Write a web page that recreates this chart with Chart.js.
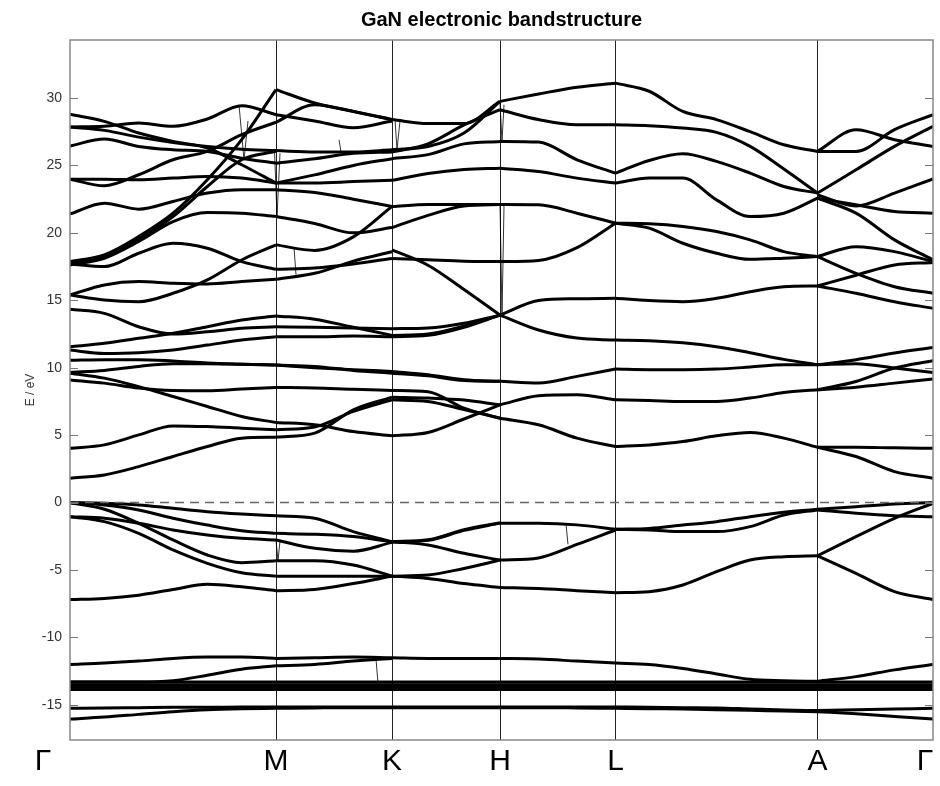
<!DOCTYPE html>
<html>
<head>
<meta charset="utf-8">
<title>GaN electronic bandstructure</title>
<script src="https://cdn.jsdelivr.net/npm/chart.js@4.4.1/dist/chart.umd.min.js"></script>
<style>
  html, body { margin: 0; padding: 0; background: #fff; }
  canvas { display: block; }
</style>
</head>
<body>
<canvas id="bandChart" width="940" height="786"></canvas>
<script>
// path through the Brillouin zone (k in path units) and its labels
const symLabels = ['Γ', 'M', 'K', 'H', 'L', 'A', 'Γ'];
const kSym = [0, 206, 322, 430, 545.5, 747.5, 863];
const symLabelK = [-27, 206, 322, 430, 545.5, 747.5, 855];
const segSteps = [6, 3, 3, 3, 6, 3];
const fermiLevel = 0;
const yMin = -17.6;
const yMax = 34.3;

// energies (eV) of each band, sampled evenly along each segment
const bandsGM = [
  [-16.05, -15.9, -15.7, -15.5, -15.35, -15.28, -15.25],
  [-15.25, -15.22, -15.2, -15.18, -15.17, -15.16, -15.15],
  [-13.85, -13.85, -13.85, -13.85, -13.85, -13.85, -13.85],
  [-13.7, -13.7, -13.7, -13.7, -13.7, -13.7, -13.7],
  [-13.5, -13.5, -13.5, -13.5, -13.5, -13.5, -13.5],
  [-13.3, -13.3, -13.3, -13.3, -13.3, -13.3, -13.3],
  [-13.3, -13.3, -13.3, -13.2, -12.8, -12.35, -12.1],
  [-12.0, -11.9, -11.75, -11.55, -11.45, -11.45, -11.55],
  [-7.18, -7.1, -6.86, -6.44, -6.06, -6.24, -6.53],
  [-1.04, -1.41, -2.28, -3.51, -4.5, -5.2, -5.45],
  [-1.04, -1.16, -1.53, -2.03, -2.4, -2.65, -2.77],
  [0, -0.49, -1.53, -2.77, -3.88, -4.45, -4.31],
  [0, -0.17, -0.54, -1.16, -1.66, -2.08, -2.28],
  [0, -0.05, -0.17, -0.42, -0.67, -0.84, -0.97],
  [1.81, 2.05, 2.67, 3.42, 4.16, 4.78, 4.85],
  [4.03, 4.28, 5.02, 5.69, 5.64, 5.52, 5.4],
  [9.1, 8.86, 8.5, 8.32, 8.3, 8.42, 8.54],
  [9.6, 9.23, 8.6, 7.87, 7.13, 6.39, 5.94],
  [9.65, 9.8, 10.1, 10.3, 10.3, 10.25, 10.2],
  [10.55, 10.6, 10.6, 10.5, 10.35, 10.25, 10.2],
  [11.31, 11.06, 11.11, 11.31, 11.68, 12.05, 12.3],
  [11.56, 11.81, 12.18, 12.55, 13.04, 13.54, 13.84],
  [14.33, 14.03, 13.04, 12.5, 12.67, 12.92, 13.04],
  [15.4, 15.02, 14.9, 15.52, 16.51, 17.99, 19.11],
  [15.4, 16.14, 16.39, 16.26, 16.21, 16.39, 16.56],
  [17.7, 17.5, 18.49, 19.23, 18.86, 17.87, 17.3],
  [17.62, 18.12, 19.36, 20.84, 21.51, 21.46, 21.21],
  [17.8, 18.24, 19.53, 21.21, 23.44, 25.42, 26.04],
  [17.87, 18.37, 19.73, 21.46, 23.94, 26.91, 30.62],
  [21.41, 22.2, 21.76, 22.33, 22.95, 23.2, 23.2],
  [23.98, 23.98, 23.94, 24.06, 24.18, 24.06, 23.69],
  [23.98, 23.49, 24.31, 25.42, 26.04, 27.28, 28.2],
  [26.44, 26.96, 26.41, 26.16, 26.04, 25.54, 25.17],
  [27.85, 27.6, 27.1, 26.7, 26.4, 26.2, 26.1],
  [27.85, 27.9, 28.14, 27.9, 28.44, 29.43, 28.76],
  [28.79, 28.27, 27.4, 26.78, 26.29, 25.05, 23.69]
];

const bandsMK = [
  [-15.25, -15.22, -15.2, -15.2],
  [-15.15, -15.15, -15.15, -15.15],
  [-13.85, -13.85, -13.85, -13.85],
  [-13.7, -13.7, -13.7, -13.7],
  [-13.5, -13.5, -13.5, -13.5],
  [-13.3, -13.3, -13.3, -13.3],
  [-12.1, -12.0, -11.75, -11.55],
  [-11.55, -11.5, -11.45, -11.5],
  [-6.53, -6.44, -6.0, -5.45],
  [-5.45, -5.45, -5.45, -5.45],
  [-4.31, -4.31, -4.63, -5.45],
  [-2.77, -3.39, -3.6, -2.95],
  [-2.28, -2.35, -2.52, -2.9],
  [-0.97, -1.16, -2.15, -2.9],
  [4.85, 5.15, 6.88, 7.82],
  [5.4, 5.6, 6.76, 7.62],
  [5.94, 5.77, 5.27, 4.95],
  [8.54, 8.5, 8.4, 8.32],
  [10.2, 10.1, 9.8, 9.6],
  [10.2, 10.0, 9.85, 9.73],
  [12.3, 12.3, 12.35, 12.3],
  [13.04, 13.0, 12.95, 12.9],
  [13.84, 13.6, 13.0, 12.4],
  [16.56, 17.0, 17.9, 18.6],
  [17.3, 17.4, 17.7, 18.1],
  [19.11, 18.7, 19.7, 21.96],
  [21.21, 20.7, 20.0, 20.4],
  [23.2, 23.0, 22.5, 21.96],
  [23.69, 23.7, 23.8, 23.9],
  [23.69, 24.3, 25.0, 25.5],
  [25.17, 25.5, 25.9, 26.0],
  [26.1, 26.0, 26.0, 26.16],
  [28.76, 28.3, 27.8, 28.3],
  [28.2, 29.5, 29.0, 28.4],
  [30.62, 29.63, 29.01, 28.39]
];

const bandsKH = [
  [-15.2, -15.2, -15.2, -15.2],
  [-15.15, -15.15, -15.15, -15.15],
  [-13.85, -13.85, -13.85, -13.85],
  [-13.7, -13.7, -13.7, -13.7],
  [-13.5, -13.5, -13.5, -13.5],
  [-13.3, -13.3, -13.3, -13.3],
  [-11.5, -11.55, -11.55, -11.55],
  [-5.45, -5.62, -6.0, -6.29],
  [-5.45, -5.37, -4.88, -4.26],
  [-2.9, -3.14, -3.76, -4.26],
  [-2.92, -2.8, -2.06, -1.52],
  [-2.88, -2.75, -2.0, -1.49],
  [4.95, 5.2, 6.2, 7.25],
  [7.62, 7.5, 6.9, 6.26],
  [7.82, 7.75, 7.6, 7.25],
  [8.32, 8.22, 7.0, 6.26],
  [9.6, 9.4, 9.05, 8.99],
  [9.73, 9.48, 9.11, 8.99],
  [12.3, 12.4, 13.0, 13.9],
  [12.4, 12.5, 13.1, 13.9],
  [12.9, 12.95, 13.3, 13.9],
  [18.74, 17.6, 15.8, 13.9],
  [18.1, 18.0, 17.9, 17.87],
  [20.4, 21.3, 22.0, 22.1],
  [21.96, 22.1, 22.1, 22.1],
  [23.9, 24.4, 24.7, 24.8],
  [25.5, 25.8, 26.6, 26.78],
  [26.0, 26.6, 28.0, 29.13],
  [26.16, 26.4, 27.4, 29.75],
  [28.4, 28.1, 28.1, 29.75]
];

const bandsHL = [
  [-15.2, -15.2, -15.22, -15.25],
  [-15.15, -15.15, -15.15, -15.15],
  [-13.85, -13.85, -13.85, -13.85],
  [-13.7, -13.7, -13.7, -13.7],
  [-13.5, -13.5, -13.5, -13.5],
  [-13.3, -13.3, -13.3, -13.3],
  [-11.55, -11.6, -11.75, -11.9],
  [-6.29, -6.37, -6.53, -6.68],
  [-4.26, -4.1, -3.1, -2.03],
  [-1.53, -1.53, -1.65, -1.98],
  [6.26, 5.77, 4.78, 4.16],
  [7.25, 7.92, 8.0, 7.62],
  [8.99, 8.86, 9.36, 9.9],
  [13.9, 12.8, 12.2, 12.05],
  [13.9, 14.98, 15.12, 15.15],
  [17.87, 17.95, 18.9, 20.72],
  [22.1, 22.08, 21.46, 20.72],
  [24.8, 24.55, 24.06, 23.69],
  [26.78, 26.73, 25.42, 24.43],
  [29.13, 28.4, 28.02, 28.02],
  [29.75, 30.3, 30.8, 31.1]
];

const bandsLA = [
  [-15.25, -15.28, -15.3, -15.35, -15.4, -15.45, -15.5],
  [-15.15, -15.17, -15.2, -15.22, -15.3, -15.38, -15.42],
  [-13.85, -13.85, -13.85, -13.85, -13.85, -13.85, -13.85],
  [-13.7, -13.7, -13.7, -13.7, -13.7, -13.7, -13.7],
  [-13.5, -13.5, -13.5, -13.5, -13.5, -13.5, -13.5],
  [-13.3, -13.3, -13.3, -13.3, -13.3, -13.3, -13.3],
  [-11.9, -12.0, -12.3, -12.7, -13.1, -13.2, -13.25],
  [-6.68, -6.6, -6.11, -5.12, -4.26, -4.01, -3.94],
  [-1.98, -2.03, -2.15, -2.15, -1.78, -0.92, -0.54],
  [-1.98, -1.91, -1.66, -1.41, -1.04, -0.72, -0.5],
  [4.16, 4.28, 4.53, 4.95, 5.2, 4.78, 4.1],
  [7.62, 7.57, 7.5, 7.5, 7.75, 8.17, 8.37],
  [9.9, 9.85, 9.85, 9.9, 10.05, 10.22, 10.22],
  [12.05, 12.0, 11.85, 11.56, 11.11, 10.62, 10.22],
  [15.15, 14.98, 14.9, 15.15, 15.64, 16.01, 16.06],
  [20.72, 20.35, 19.23, 18.49, 18.04, 18.12, 18.24],
  [20.72, 20.67, 20.47, 20.1, 19.48, 18.61, 18.24],
  [23.69, 24.06, 24.06, 22.45, 21.21, 21.46, 22.57],
  [24.43, 25.37, 25.87, 25.3, 24.43, 23.44, 22.95],
  [28.02, 27.95, 27.77, 27.45, 26.41, 24.73, 22.95],
  [31.1, 30.5, 29.0, 28.4, 27.5, 26.53, 26.04]
];

const bandsAG = [
  [-15.5, -15.65, -15.85, -16.05],
  [-15.42, -15.35, -15.3, -15.25],
  [-13.85, -13.85, -13.85, -13.85],
  [-13.7, -13.7, -13.7, -13.7],
  [-13.5, -13.5, -13.5, -13.5],
  [-13.3, -13.3, -13.3, -13.3],
  [-13.25, -12.9, -12.4, -12.0],
  [-3.94, -5.25, -6.6, -7.18],
  [-3.94, -2.52, -1.16, -0.05],
  [-0.54, -0.79, -0.97, -1.04],
  [-0.5, -0.3, -0.1, 0],
  [4.1, 3.42, 2.3, 1.81],
  [4.1, 4.1, 4.06, 4.03],
  [8.37, 8.56, 8.86, 9.16],
  [8.37, 8.98, 9.98, 10.52],
  [10.22, 10.3, 9.98, 9.65],
  [10.22, 10.6, 11.1, 11.5],
  [16.06, 15.52, 14.9, 14.41],
  [16.06, 16.86, 17.62, 17.8],
  [18.24, 17.0, 16.01, 15.52],
  [18.24, 18.98, 18.61, 17.87],
  [22.57, 21.46, 19.48, 18.0],
  [22.57, 22.08, 21.58, 21.46],
  [22.82, 22.0, 22.95, 24.0],
  [22.95, 24.68, 26.41, 27.9],
  [26.04, 26.04, 27.65, 28.76],
  [26.04, 27.65, 26.91, 26.41]
];

// thin jumps where the band ordering switches between two k-points
const glitchK = [[169, 174, 178], [204.5, 207, 210], [224, 226], [269, 271], [325, 327, 330],
  [430, 432, 434], [430, 432, 434], [206, 208, 210], [306, 308], [496, 498]];
const glitchE = [[29.5, 25.4, 28.3], [26.1, 21.2, 25.9], [18.9, 16.9], [26.9, 26.0], [28.4, 26.2, 28.3],
  [29.6, 26.8, 29.5], [22.1, 13.9, 22.0], [-2.8, -4.3, -2.85], [-11.6, -13.4], [-1.6, -3.1]];

const segBands = [bandsGM, bandsMK, bandsKH, bandsHL, bandsLA, bandsAG];
const fontFamily = '"Liberation Sans", Arial, Helvetica, sans-serif';

const datasets = [];

datasets.push({
  data: [{ x: kSym[0], y: fermiLevel }, { x: kSym[kSym.length - 1], y: fermiLevel }],
  borderColor: '#666',
  borderWidth: 1.5,
  borderDash: [9, 6],
  pointRadius: 0
});

segBands.forEach((bands, s) => {
  const k0 = kSym[s], k1 = kSym[s + 1], n = segSteps[s];
  bands.forEach(band => {
    datasets.push({
      data: band.map((e, i) => ({ x: k0 + (k1 - k0) * i / n, y: e })),
      borderColor: '#000',
      borderWidth: 3,
      pointRadius: 0,
      cubicInterpolationMode: 'monotone'
    });
  });
});

glitchK.forEach((ks, g) => {
  datasets.push({
    data: ks.map((k, i) => ({ x: k, y: glitchE[g][i] })),
    borderColor: '#000',
    borderWidth: 0.8,
    pointRadius: 0,
    tension: 0
  });
});

// box, inner ticks and the symmetry point labels
const frameAndLabels = {
  id: 'frameAndLabels',
  afterDraw(chart) {
    const { ctx, chartArea: a, scales: { x, y } } = chart;
    ctx.save();
    ctx.strokeStyle = '#777';
    ctx.lineWidth = 1;
    y.ticks.forEach(t => {
      const py = Math.round(y.getPixelForValue(t.value)) + 0.5;
      ctx.beginPath();
      ctx.moveTo(a.left, py); ctx.lineTo(a.left + 8, py);
      ctx.moveTo(a.right, py); ctx.lineTo(a.right - 8, py);
      ctx.stroke();
    });
    ctx.strokeStyle = '#888';
    ctx.lineWidth = 1.5;
    ctx.strokeRect(a.left, a.top, a.right - a.left, a.bottom - a.top);
    ctx.fillStyle = '#000';
    ctx.font = '30px ' + fontFamily;
    ctx.textAlign = 'center';
    ctx.textBaseline = 'middle';
    symLabels.forEach((s, i) => ctx.fillText(s, x.getPixelForValue(symLabelK[i]), a.bottom + 22));
    ctx.restore();
  }
};

new Chart(document.getElementById('bandChart'), {
  type: 'line',
  data: { datasets },
  options: {
    responsive: false,
    animation: false,
    events: [],
    layout: { padding: { left: 20, right: 7, top: 0, bottom: 0 } },
    plugins: {
      legend: { display: false },
      tooltip: { enabled: false },
      title: {
        display: true,
        text: 'GaN electronic bandstructure',
        fullSize: false,
        color: '#000',
        font: { size: 20, weight: 'bold', family: fontFamily },
        padding: { top: 8, bottom: 8 }
      }
    },
    scales: {
      x: {
        type: 'linear',
        min: kSym[0],
        max: kSym[kSym.length - 1],
        afterBuildTicks(axis) { axis.ticks = kSym.map(v => ({ value: v })); },
        afterFit(axis) { axis.height = 46; },
        ticks: { display: false },
        border: { display: false },
        grid: {
          drawTicks: false,
          lineWidth: 1,
          color: c => (c.index === 0 || c.index === kSym.length - 1) ? 'rgba(0,0,0,0)' : '#222'
        }
      },
      y: {
        type: 'linear',
        min: yMin,
        max: yMax,
        afterFit(axis) { axis.width = 50; },
        border: { display: false },
        grid: { display: false },
        ticks: {
          stepSize: 5,
          includeBounds: false,
          padding: 0,
          color: '#333',
          font: { size: 14, family: fontFamily }
        },
        title: {
          display: true,
          text: 'E / eV',
          color: '#333',
          padding: { top: 3, bottom: 0 },
          font: { size: 12, family: fontFamily }
        }
      }
    }
  },
  plugins: [frameAndLabels]
});
</script>
</body>
</html>
